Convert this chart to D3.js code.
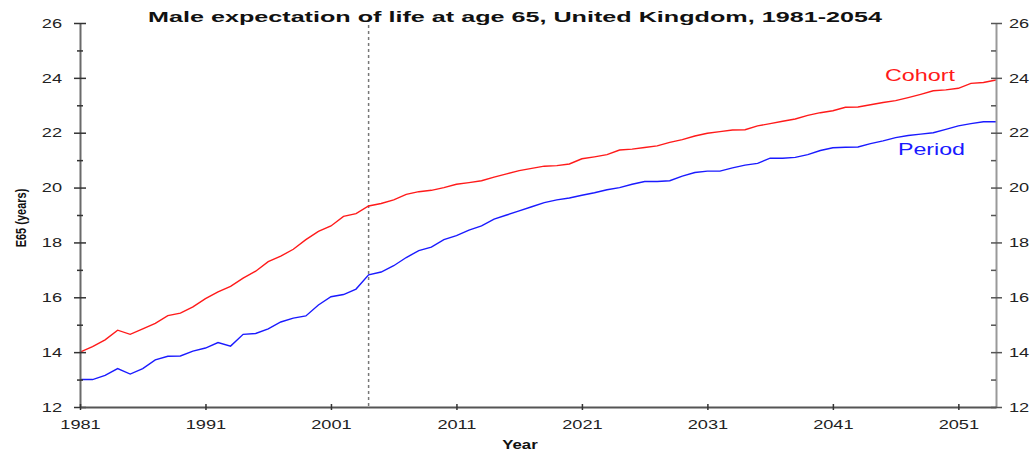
<!DOCTYPE html>
<html>
<head>
<meta charset="utf-8">
<script src="https://cdn.jsdelivr.net/npm/d3@7"></script>
<style>
  html, body { margin: 0; padding: 0; background: #fff; }
  svg { display: block; font-family: Arial, "Liberation Sans", sans-serif; }
</style>
</head>
<body>
<svg id="chart" width="1034" height="452"></svg>
<script>
// Male expectation of life at age 65 (E65), UK, 1981-2054
const years = d3.range(1981, 2055);

const cohort = [
  14.0, 14.2, 14.45, 14.8, 14.65, 14.85, 15.05, 15.33, 15.42, 15.65,
  15.95, 16.2, 16.4, 16.7, 16.95, 17.3, 17.5, 17.75, 18.1, 18.4,
  18.6, 18.95, 19.05, 19.33, 19.42, 19.55, 19.75, 19.85, 19.9, 20.0,
  20.12, 20.18, 20.25, 20.38, 20.5, 20.62, 20.7, 20.78, 20.8, 20.86,
  21.05, 21.12, 21.2, 21.37, 21.4, 21.46, 21.52, 21.65, 21.75, 21.88,
  21.98, 22.04, 22.1, 22.11, 22.25, 22.33, 22.42, 22.5, 22.63, 22.73,
  22.8, 22.93, 22.94, 23.02, 23.1, 23.17, 23.28, 23.4, 23.53, 23.56,
  23.62, 23.8, 23.83, 23.92
];

const period = [
  13.0, 13.0, 13.15, 13.4, 13.2, 13.4, 13.72, 13.85, 13.86, 14.04,
  14.15, 14.35, 14.22, 14.65, 14.68, 14.85, 15.1, 15.24, 15.32, 15.72,
  16.02, 16.1, 16.3, 16.82, 16.92, 17.15, 17.45, 17.7, 17.83, 18.1,
  18.25, 18.45, 18.6, 18.85, 19.0, 19.15, 19.3, 19.45, 19.55, 19.62,
  19.72, 19.81, 19.92, 20.0, 20.12, 20.22, 20.22, 20.25, 20.42, 20.55,
  20.6, 20.6, 20.72, 20.82, 20.88, 21.07, 21.07, 21.1, 21.2, 21.35,
  21.45, 21.47, 21.48, 21.6, 21.7, 21.82, 21.9, 21.95, 22.0, 22.12,
  22.25, 22.33, 22.4, 22.4
];

const xTickYears = [1981, 1991, 2001, 2011, 2021, 2031, 2041, 2051];
const yMajorTicks = [12, 14, 16, 18, 20, 22, 24, 26];
const yMinorTicks = [13, 15, 17, 19, 21, 23, 25];
const baseYear = 2004;

const title = "Male expectation of life at age 65, United Kingdom, 1981-2054";

const svg = d3.select("#chart");
const m = { left: 80, right: 996, top: 23, bottom: 407 };
const SX = 1.4; // horizontal stretch of lettering

const x = d3.scaleLinear().domain([1981, 2054]).range([m.left, m.right]);
const y = d3.scaleLinear().domain([12, 26]).range([m.bottom, m.top]);

// projection base-year marker
svg.append("line")
  .attr("x1", x(baseYear)).attr("x2", x(baseYear))
  .attr("y1", m.top - 4).attr("y2", m.bottom)
  .attr("stroke", "#777").attr("stroke-width", 1.5)
  .attr("stroke-dasharray", "3,3");

// series lines
const line = d3.line().x((d, i) => x(years[i])).y(d => y(d));
svg.append("path").datum(cohort)
  .attr("d", line).attr("fill", "none")
  .attr("stroke", "#ff1a1a").attr("stroke-width", 1.4);
svg.append("path").datum(period)
  .attr("d", line).attr("fill", "none")
  .attr("stroke", "#1a1aff").attr("stroke-width", 1.4);

function styleAxis(g, color) {
  g.select(".domain").attr("stroke", color).attr("stroke-width", 2);
  g.selectAll(".tick line").attr("stroke", "#333").attr("stroke-width", 1.5);
  g.selectAll(".tick text")
    .attr("fill", "#222")
    .style("font-size", "13px")
    .style("font-family", "Arial, 'Liberation Sans', sans-serif");
}

// left axis
const gL = svg.append("g").attr("transform", `translate(${m.left},0)`);
gL.call(d3.axisLeft(y).tickValues(yMajorTicks).tickFormat(d3.format("d"))
  .tickSize(6).tickSizeOuter(0));
gL.selectAll(".tick line").attr("x2", -6).attr("x1", 6);
gL.selectAll(".tick text").attr("x", -18 / SX).attr("transform", `scale(${SX},1)`);
styleAxis(gL, "#6a6a6a");
const gLm = svg.append("g").attr("transform", `translate(${m.left},0)`);
gLm.call(d3.axisLeft(y).tickValues(yMinorTicks).tickFormat("").tickSize(3).tickSizeOuter(0));
gLm.select(".domain").remove();
gLm.selectAll(".tick line").attr("x1", 3).attr("stroke", "#333").attr("stroke-width", 1.5);

// right axis
const gR = svg.append("g").attr("transform", `translate(${m.right},0)`);
gR.call(d3.axisRight(y).tickValues(yMajorTicks).tickFormat(d3.format("d"))
  .tickSize(6).tickSizeOuter(0));
gR.selectAll(".tick line").attr("x1", -5).attr("x2", 6);
gR.selectAll(".tick text").attr("x", 13 / SX).attr("transform", `scale(${SX},1)`);
styleAxis(gR, "#999");
gR.selectAll(".tick line").attr("stroke", "#555");
const gRm = svg.append("g").attr("transform", `translate(${m.right},0)`);
gRm.call(d3.axisRight(y).tickValues(yMinorTicks).tickFormat("").tickSize(0).tickSizeOuter(0));
gRm.select(".domain").remove();
gRm.selectAll(".tick line").attr("x1", -5).attr("x2", 0).attr("stroke", "#555").attr("stroke-width", 1.5);

// bottom axis
const gB = svg.append("g").attr("transform", `translate(0,${m.bottom})`);
gB.call(d3.axisBottom(x).tickValues(xTickYears).tickFormat(d3.format("d"))
  .tickSize(3).tickSizeOuter(0));
gB.selectAll(".tick line").attr("y1", -3).attr("y2", 3);
gB.selectAll(".tick text").attr("y", 13).attr("dy", "0.71em")
  .attr("transform", `scale(${SX},1)`);
styleAxis(gB, "#555");

// title
svg.append("text")
  .attr("x", 148).attr("y", 22)
  .attr("textLength", 734).attr("lengthAdjust", "spacingAndGlyphs")
  .style("font-size", "15px").style("font-weight", "bold")
  .attr("fill", "#111")
  .text(title);

// axis titles
svg.append("text")
  .attr("transform", `translate(520,449) scale(${SX},1)`)
  .attr("text-anchor", "middle")
  .style("font-size", "12px").style("font-weight", "bold")
  .attr("fill", "#111").text("Year");

svg.append("text")
  .attr("transform", `translate(26,218) scale(1.3,1) rotate(-90)`)
  .attr("text-anchor", "middle")
  .style("font-size", "11px").style("font-weight", "bold")
  .attr("fill", "#111").text("E65 (years)");

// series labels
svg.append("text")
  .attr("x", 885).attr("y", 81)
  .attr("textLength", 70).attr("lengthAdjust", "spacingAndGlyphs")
  .style("font-size", "16px").attr("fill", "#ff1a1a").text("Cohort");
svg.append("text")
  .attr("x", 898).attr("y", 155)
  .attr("textLength", 67).attr("lengthAdjust", "spacingAndGlyphs")
  .style("font-size", "16px").attr("fill", "#1a1aff").text("Period");
</script>
</body>
</html>
